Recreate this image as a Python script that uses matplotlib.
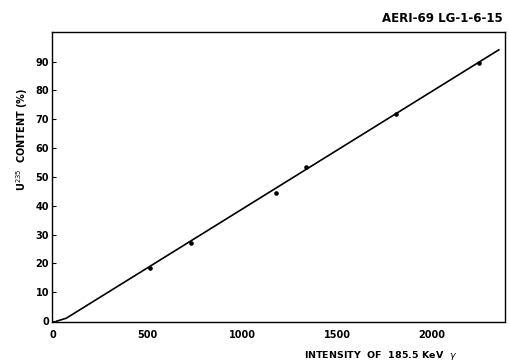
import matplotlib
matplotlib.use('Agg')
import matplotlib.pyplot as plt

# measured points (intensity, U235 %)
intensity = [510, 730, 1175, 1335, 1808, 2250]
content = [18.5, 27.0, 44.5, 53.6, 71.9, 89.7]

# calibration line
line_x = [20, 70, 2353]
line_y = [0.0, 1.0, 94.1]

xticks = [0, 500, 1000, 1500, 2000]
yticks = [0, 10, 20, 30, 40, 50, 60, 70, 80, 90]

fig = plt.figure(figsize=(5.1, 3.63), dpi=100)
ax = fig.add_axes([0.102, 0.113, 0.888, 0.799])

ax.plot(line_x, line_y, color='k', linewidth=1.2)
ax.plot(intensity, content, 'o', color='k', markersize=2.3)

ax.set_xlim(-5, 2385)
ax.set_ylim(-0.3, 100.3)
ax.set_xticks(xticks)
ax.set_yticks(yticks)
ax.set_xticklabels([str(v) for v in xticks], fontsize=7, fontweight='bold')
ax.set_yticklabels([str(v) for v in yticks], fontsize=7, fontweight='bold')
ax.tick_params(axis='y', direction='in', length=3, width=0.8, pad=2)
ax.tick_params(axis='x', length=0, pad=6)
for s in ax.spines.values():
    s.set_linewidth(1.0)

fig.text(0.043, 0.617, r'U$^{235}$  CONTENT (%)', rotation=90, fontsize=7,
         fontweight='bold', ha='center', va='center')
fig.text(0.747, 0.022, r'INTENSITY  OF  185.5 KeV  $\gamma$', fontsize=6.8,
         fontweight='bold', ha='center', va='center')
fig.text(0.986, 0.948, 'AERI-69 LG-1-6-15', fontsize=8.5, fontweight='bold',
         ha='right', va='center')

fig.savefig('out.png', dpi=100)
